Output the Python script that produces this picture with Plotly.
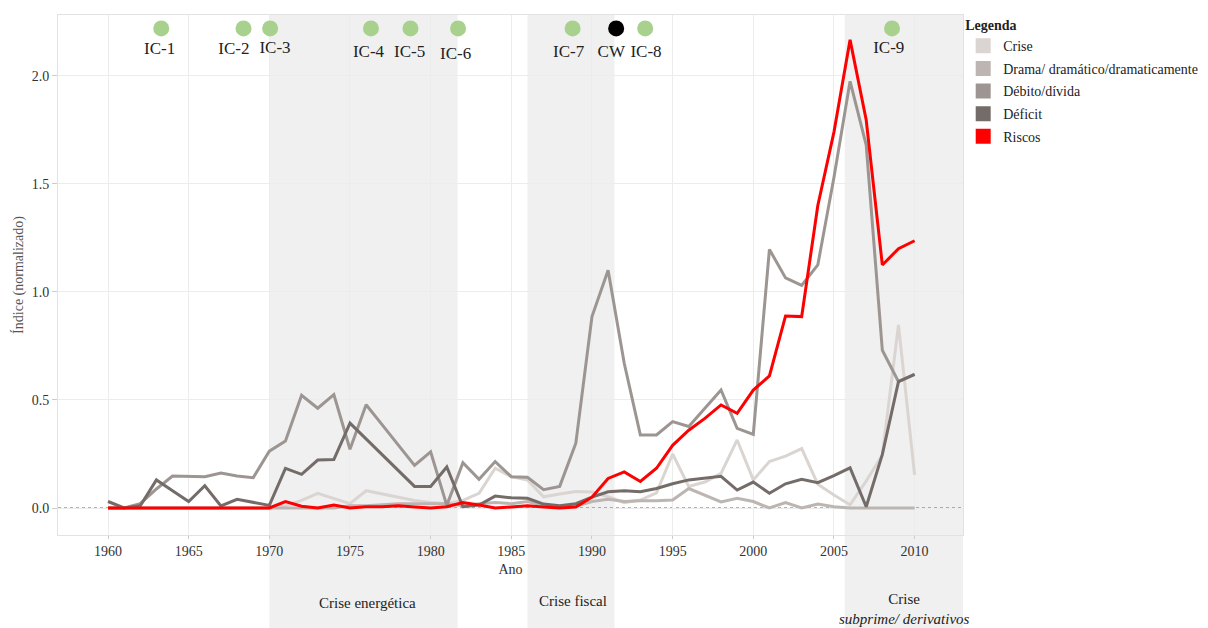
import plotly.graph_objects as go

# --- data ---
years = list(range(1960, 2011))

crise = [0, 0, 0, 0, 0, 0, 0, 0, 0, 0,
         0, 0.01, 0.035, 0.068, 0.045, 0.02, 0.08, 0.065, 0.05, 0.035,
         0.025, 0.02, 0.035, 0.068, 0.184, 0.145, 0.13, 0.052, 0.065, 0.076,
         0.074, 0.052, 0.025, 0.037, 0.07, 0.25, 0.1, 0.12, 0.16, 0.315,
         0.13, 0.215, 0.24, 0.275, 0.11, 0.06, 0.015, 0.125, 0.245, 0.847, 0.153]

drama = [0, 0, 0, 0, 0, 0, 0, 0, 0, 0,
         0, 0, 0, 0, 0, 0.01, 0.01, 0.015, 0.02, 0.02,
         0.02, 0.02, 0.01, 0.02, 0.025, 0.02, 0.03, 0.014, 0.003, 0.008,
         0.03, 0.04, 0.03, 0.034, 0.034, 0.037, 0.09, 0.06, 0.028, 0.045,
         0.03, 0.0, 0.025, 0.0, 0.018, 0.006, 0, 0, 0, 0, 0]

debito = [0, 0, 0.02, 0.088, 0.148, 0.148, 0.145, 0.162, 0.148, 0.14,
          0.263, 0.31, 0.522, 0.462, 0.525, 0.272, 0.478, 0.385, 0.29, 0.197,
          0.26, 0.012, 0.21, 0.133, 0.215, 0.145, 0.142, 0.085, 0.1, 0.3,
          0.886, 1.10, 0.67, 0.338, 0.338, 0.4, 0.377, 0.462, 0.546, 0.369,
          0.341, 1.197, 1.065, 1.03, 1.125, 1.53, 1.975, 1.68, 0.73, 0.585, 0.618]

deficit = [0.03, 0.0, 0.01, 0.13, 0.08, 0.03, 0.103, 0.01, 0.04, 0.025,
           0.012, 0.183, 0.156, 0.222, 0.224, 0.393, 0.32, 0.247, 0.173, 0.1,
           0.1, 0.19, 0.006, 0.014, 0.055, 0.047, 0.045, 0.018, 0.01, 0.02,
           0.05, 0.075, 0.08, 0.075, 0.09, 0.112, 0.13, 0.137, 0.147, 0.083,
           0.12, 0.068, 0.112, 0.133, 0.117, 0.15, 0.186, 0.006, 0.248, 0.585, 0.618]

riscos = [0, 0, 0, 0, 0, 0, 0, 0, 0, 0,
          0.0, 0.03, 0.008, 0.0, 0.014, 0.0, 0.006, 0.006, 0.01, 0.005,
          0.0, 0.006, 0.025, 0.014, 0.0, 0.005, 0.01, 0.005, 0.0, 0.005,
          0.05, 0.137, 0.167, 0.123, 0.184, 0.29, 0.36, 0.415, 0.477, 0.438,
          0.546, 0.611, 0.889, 0.886, 1.40, 1.74, 2.167, 1.796, 1.125, 1.2, 1.237]

series_names = ["Crise", "Drama/ dramático/dramaticamente", "Débito/dívida", "Déficit", "Riscos"]
series_values = [crise, drama, debito, deficit, riscos]
series_colors = ["#dbd5d2", "#bcb5b2", "#9c9592", "#746c69", "#ff0000"]

# events on top of the chart
event_names = ["IC-1", "IC-2", "IC-3", "IC-4", "IC-5", "IC-6", "IC-7", "CW", "IC-8", "IC-9"]
event_years = [1963.3, 1968.4, 1970.05, 1976.3, 1978.75, 1981.7, 1988.8, 1991.5, 1993.3, 2008.6]
event_label_years = [1963.2, 1967.8, 1970.35, 1976.15, 1978.7, 1981.55, 1988.55, 1991.2, 1993.35, 2008.4]
event_label_levels = [2.122, 2.12, 2.124, 2.106, 2.106, 2.098, 2.108, 2.108, 2.106, 2.124]
event_colors = ["#a9d18e"] * 7 + ["#000000"] + ["#a9d18e"] * 2
event_level = 2.22

# crisis periods (shaded)
crisis_names = ["Crise energética", "Crise fiscal", "Crise<br><i>subprime/ derivativos</i>"]
crisis_start = [1970, 1986, 2005.67]
crisis_end = [1981.67, 1991.4, 2013.0]
crisis_label_x = [1976.1, 1988.8, 2009.4]
crisis_label_y = [-0.131, -0.127, -0.142]

FONT = "Liberation Serif, DejaVu Serif, serif"

fig = go.Figure()

for name, vals, col in zip(series_names, series_values, series_colors):
    fig.add_trace(go.Scatter(
        x=years, y=vals, mode="lines", name=name, legendgroup=name,
        line=dict(color=col, width=3), showlegend=False
    ))
    # square swatch for the legend
    fig.add_trace(go.Scatter(
        x=[None], y=[None], mode="markers", name=name, legendgroup=name,
        marker=dict(symbol="square", size=15, color=col)
    ))

fig.add_trace(go.Scatter(
    x=event_years, y=[event_level] * len(event_years), mode="markers",
    marker=dict(size=16, color=event_colors), showlegend=False
))
fig.add_trace(go.Scatter(
    x=event_label_years, y=event_label_levels, mode="text", text=event_names,
    textfont=dict(family=FONT, size=17, color="#222222"), showlegend=False
))

for x0, x1 in zip(crisis_start, crisis_end):
    fig.add_shape(type="rect", xref="x", yref="paper", x0=x0, x1=x1, y0=-0.25, y1=1,
                  fillcolor="#f0f0f0", line=dict(width=0), layer="below")

for name, xl, yl in zip(crisis_names, crisis_label_x, crisis_label_y):
    fig.add_annotation(x=xl, xref="x", y=yl, yref="paper", text=name, showarrow=False,
                       font=dict(family=FONT, size=15, color="#222222"), yanchor="middle")

# dotted zero line
fig.add_shape(type="line", xref="paper", yref="y", x0=0, x1=1, y0=0, y1=0,
              line=dict(color="#666666", width=1, dash="dot"), layer="between")

# the page body adds an 8px offset, so the figure is 8px smaller than the window
fig.update_layout(
    width=1200, height=620,
    margin=dict(l=50, r=245, t=7, b=93),
    paper_bgcolor="white", plot_bgcolor="white",
    font=dict(family=FONT, size=14, color="#333333"),
    legend=dict(xref="container", yref="container", x=0.796, y=0.9935,
                xanchor="left", yanchor="top", tracegroupgap=1.4,
                bgcolor="rgba(0,0,0,0)",
                title=dict(text="<b>Legenda</b>", font=dict(family=FONT, size=14, color="#222222")),
                font=dict(family=FONT, size=14, color="#222222"), itemsizing="trace"),
)
fig.update_xaxes(range=[1956.9, 2013.0], tickvals=list(range(1960, 2011, 5)),
                 showgrid=True, gridcolor="#ececec", zeroline=False, automargin=False,
                 showline=True, linecolor="#e2e2e2", mirror=True,
                 ticks="outside", ticklen=3, tickcolor="#cccccc",
                 title=dict(text="Ano", font=dict(family=FONT, size=14, color="#333333"), standoff=6),
                 tickfont=dict(family=FONT, size=14, color="#333333"))
fig.update_yaxes(range=[-0.125, 2.282], tickvals=[0, 0.5, 1.0, 1.5, 2.0], tickformat=".1f",
                 showgrid=True, gridcolor="#ececec", zeroline=False, automargin=False,
                 showline=True, linecolor="#e2e2e2", mirror=True,
                 ticks="outside", ticklen=5, tickcolor="#cccccc",
                 title=dict(text="Índice (normalizado)", font=dict(family=FONT, size=14, color="#555555"),
                            standoff=4),
                 tickfont=dict(family=FONT, size=14, color="#333333"))

fig.write_html("out.html")
